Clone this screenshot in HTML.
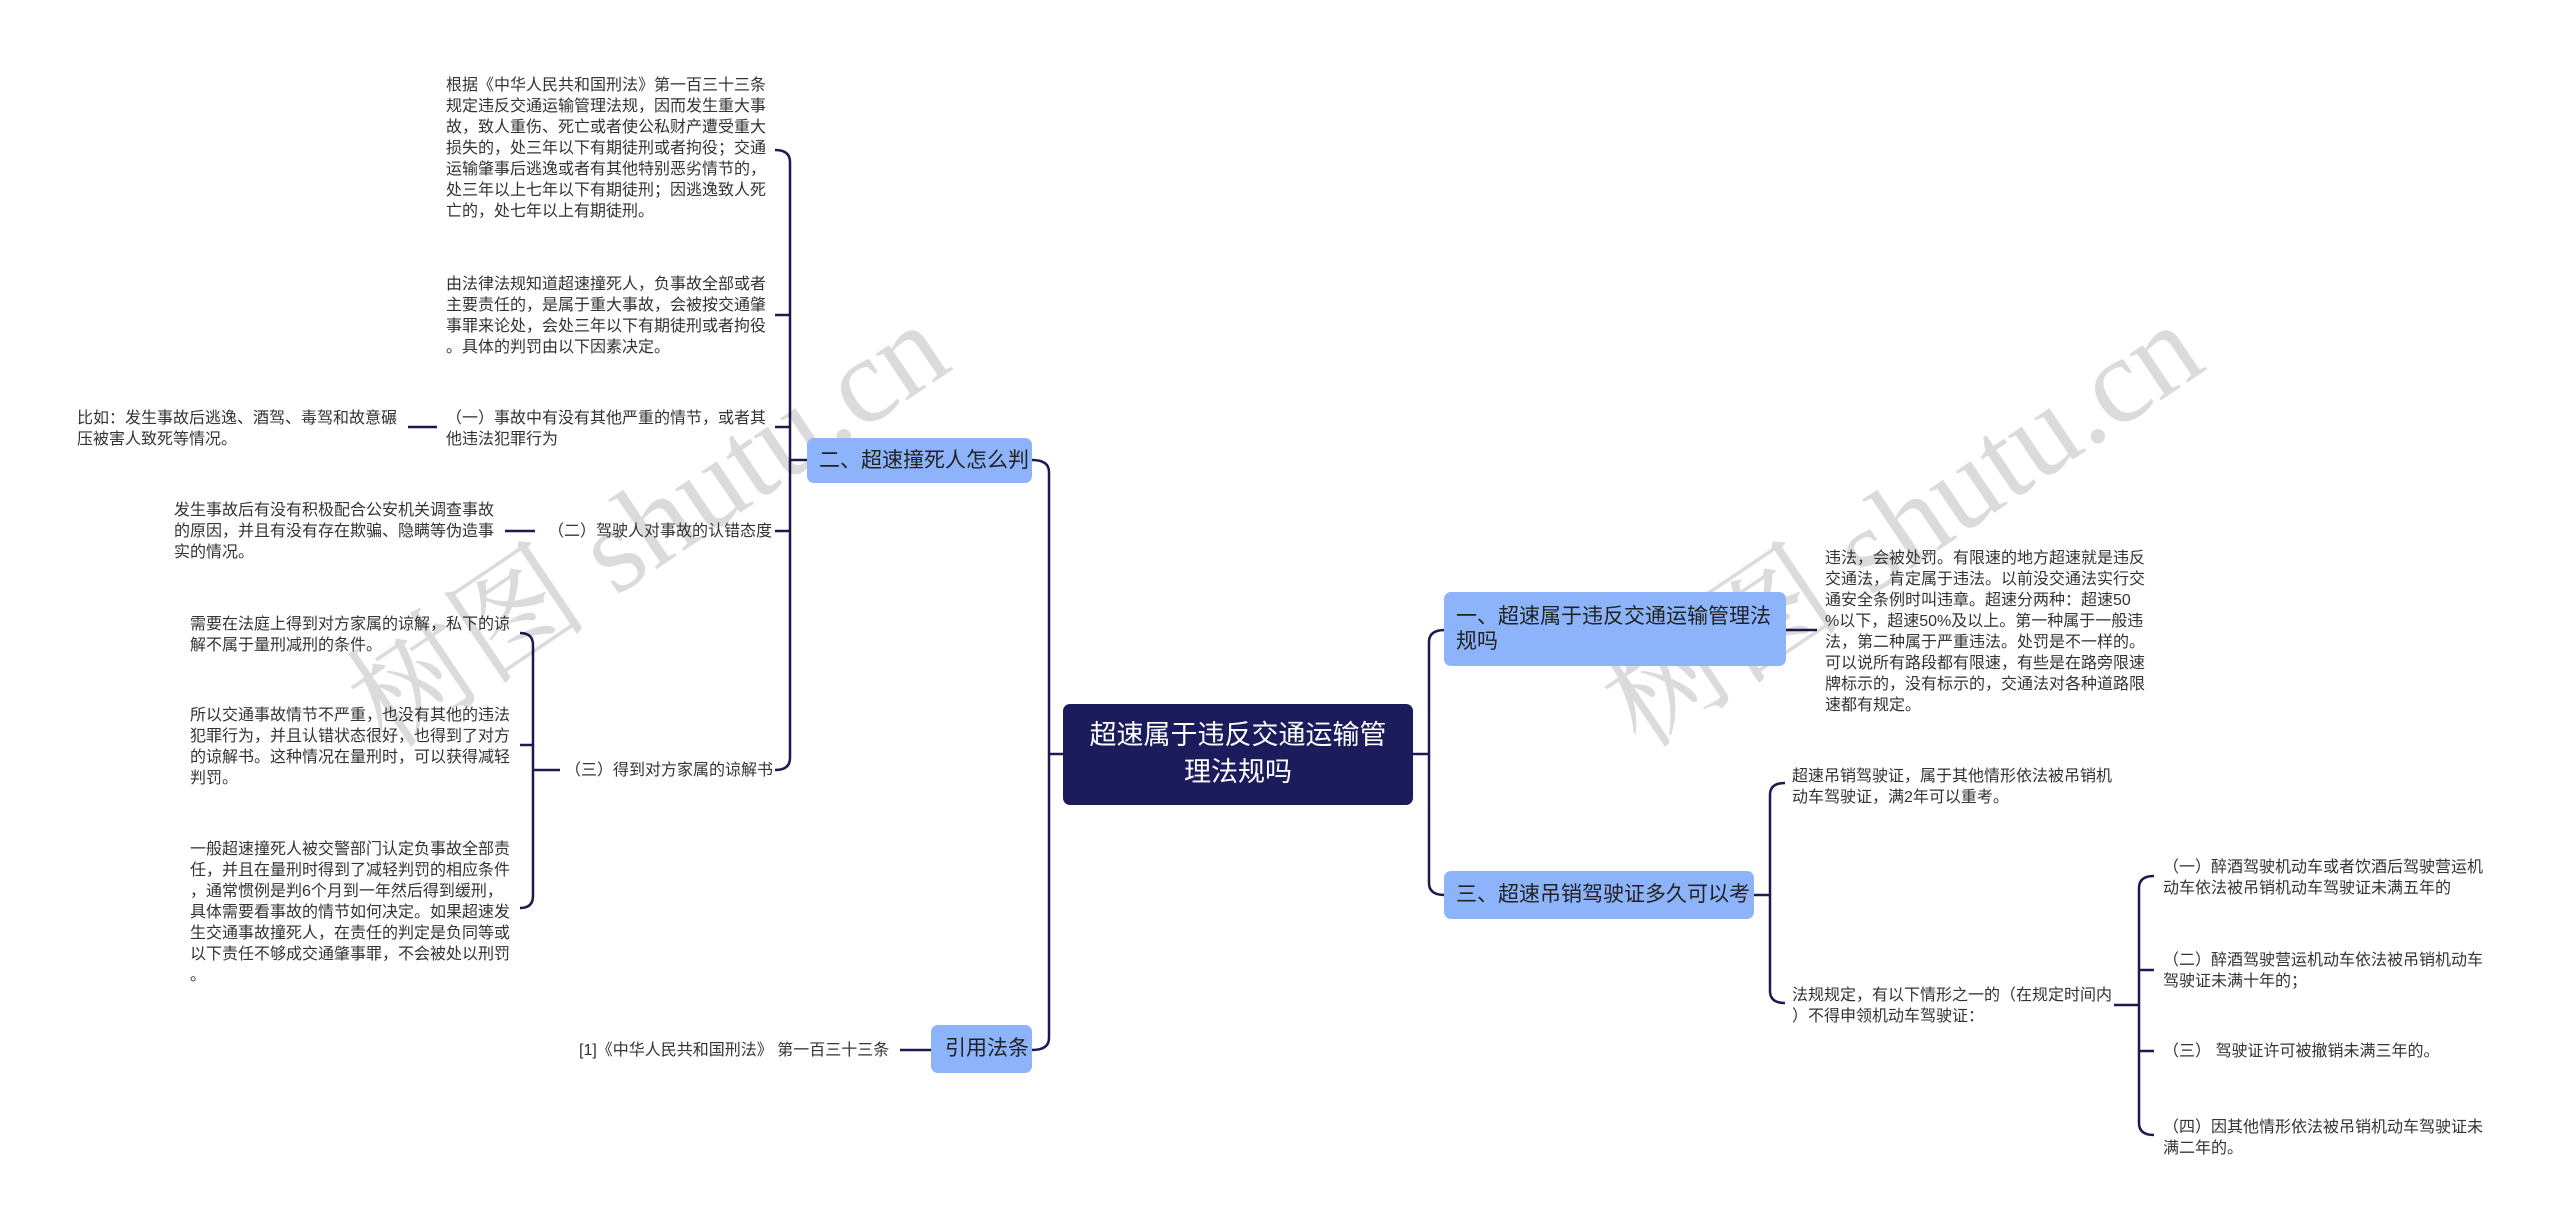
<!DOCTYPE html>
<html><head><meta charset="utf-8"><style>
body{margin:0;background:#fff;}
#c{position:relative;width:2560px;height:1229px;overflow:hidden;font-family:"Liberation Sans","Noto Sans CJK SC",sans-serif;}
.t{position:absolute;font-size:16px;line-height:21px;color:#333;white-space:nowrap;}
.n{position:absolute;background:#8db4fb;border-radius:7px;color:#222;font-size:21px;line-height:25px;box-sizing:border-box;white-space:nowrap;}
.r{position:absolute;background:#1c1b5c;border-radius:7px;color:#fff;font-size:27px;line-height:37px;text-align:center;box-sizing:border-box;}
.w{position:absolute;font-size:122px;line-height:122px;color:rgba(0,0,0,0.14);white-space:nowrap;transform:rotate(-34deg);transform-origin:0 0;font-family:"Liberation Serif","Noto Serif CJK SC",serif;}
svg{position:absolute;left:0;top:0;}
</style></head><body><div id="c">
<svg width="2560" height="1229" fill="none" stroke="#1c1b4f" stroke-width="2.5">
<path d="M775 150 Q790 150 790 162 L790 758 Q790 770 775 770"/>
<path d="M775 315 H790 M775 427 H790 M775 531 H790 M790 460 H807"/>
<path d="M408 427 H437 M505 531 H535"/>
<path d="M520 633 Q533 633 533 645 L533 896 Q533 908 520 908"/>
<path d="M520 745 H533 M533 770 H560"/>
<path d="M1032 460 Q1049 460 1049 472 L1049 1038 Q1049 1050 1032 1050"/>
<path d="M1049 754 H1065 M900 1050 H931"/>
<path d="M1413 754 H1429 M1445 630 Q1429 630 1429 642 L1429 883 Q1429 895 1445 895"/>
<path d="M1786 630 H1817 M1753 895 H1770"/>
<path d="M1785 783 Q1770 783 1770 795 L1770 991 Q1770 1003 1785 1003"/>
<path d="M2114 1005 H2139"/>
<path d="M2154 876 Q2139 876 2139 888 L2139 1123 Q2139 1135 2154 1135"/>
<path d="M2139 970 H2154 M2139 1051 H2154"/>
</svg>

<div class="w" style="left:331px;top:667px;">树图 shutu.cn</div>
<div class="w" style="left:1585px;top:667px;">树图 shutu.cn</div>

<div class="r" style="left:1063px;top:704px;width:350px;height:101px;padding-top:13px;">超速属于违反交通运输管<br>理法规吗</div>

<div class="n" style="left:807px;top:438px;width:225px;height:45px;padding:10px 0 0 12px;">二、超速撞死人怎么判</div>
<div class="n" style="left:931px;top:1025px;width:101px;height:48px;padding:11px 0 0 14px;">引用法条</div>
<div class="n" style="left:1444px;top:592px;width:342px;height:74px;padding:12px 0 0 12px;">一、超速属于违反交通运输管理法<br>规吗</div>
<div class="n" style="left:1444px;top:871px;width:310px;height:48px;padding:11px 0 0 12px;">三、超速吊销驾驶证多久可以考</div>

<div class="t" style="left:446px;top:75px;">根据《中华人民共和国刑法》第一百三十三条<br>规定违反交通运输管理法规，因而发生重大事<br>故，致人重伤、死亡或者使公私财产遭受重大<br>损失的，处三年以下有期徒刑或者拘役；交通<br>运输肇事后逃逸或者有其他特别恶劣情节的，<br>处三年以上七年以下有期徒刑；因逃逸致人死<br>亡的，处七年以上有期徒刑。</div>
<div class="t" style="left:446px;top:274px;">由法律法规知道超速撞死人，负事故全部或者<br>主要责任的，是属于重大事故，会被按交通肇<br>事罪来论处，会处三年以下有期徒刑或者拘役<br>。具体的判罚由以下因素决定。</div>
<div class="t" style="left:446px;top:408px;">（一）事故中有没有其他严重的情节，或者其<br>他违法犯罪行为</div>
<div class="t" style="left:77px;top:408px;">比如：发生事故后逃逸、酒驾、毒驾和故意碾<br>压被害人致死等情况。</div>
<div class="t" style="left:548px;top:521px;">（二）驾驶人对事故的认错态度</div>
<div class="t" style="left:174px;top:500px;">发生事故后有没有积极配合公安机关调查事故<br>的原因，并且有没有存在欺骗、隐瞒等伪造事<br>实的情况。</div>
<div class="t" style="left:565px;top:760px;">（三）得到对方家属的谅解书</div>
<div class="t" style="left:190px;top:614px;">需要在法庭上得到对方家属的谅解，私下的谅<br>解不属于量刑减刑的条件。</div>
<div class="t" style="left:190px;top:705px;">所以交通事故情节不严重，也没有其他的违法<br>犯罪行为，并且认错状态很好，也得到了对方<br>的谅解书。这种情况在量刑时，可以获得减轻<br>判罚。</div>
<div class="t" style="left:190px;top:839px;">一般超速撞死人被交警部门认定负事故全部责<br>任，并且在量刑时得到了减轻判罚的相应条件<br>，通常惯例是判6个月到一年然后得到缓刑，<br>具体需要看事故的情节如何决定。如果超速发<br>生交通事故撞死人，在责任的判定是负同等或<br>以下责任不够成交通肇事罪，不会被处以刑罚<br>。</div>
<div class="t" style="left:579px;top:1040px;">[1]《中华人民共和国刑法》 第一百三十三条</div>

<div class="t" style="left:1825px;top:548px;">违法，会被处罚。有限速的地方超速就是违反<br>交通法，肯定属于违法。以前没交通法实行交<br>通安全条例时叫违章。超速分两种：超速50<br>%以下，超速50%及以上。第一种属于一般违<br>法，第二种属于严重违法。处罚是不一样的。<br>可以说所有路段都有限速，有些是在路旁限速<br>牌标示的，没有标示的，交通法对各种道路限<br>速都有规定。</div>
<div class="t" style="left:1792px;top:766px;">超速吊销驾驶证，属于其他情形依法被吊销机<br>动车驾驶证，满2年可以重考。</div>
<div class="t" style="left:1792px;top:985px;">法规规定，有以下情形之一的（在规定时间内<br>）不得申领机动车驾驶证：</div>
<div class="t" style="left:2163px;top:857px;">（一）醉酒驾驶机动车或者饮酒后驾驶营运机<br>动车依法被吊销机动车驾驶证未满五年的</div>
<div class="t" style="left:2163px;top:950px;">（二）醉酒驾驶营运机动车依法被吊销机动车<br>驾驶证未满十年的；</div>
<div class="t" style="left:2163px;top:1041px;">（三） 驾驶证许可被撤销未满三年的。</div>
<div class="t" style="left:2163px;top:1117px;">（四）因其他情形依法被吊销机动车驾驶证未<br>满二年的。</div>
</div></body></html>
